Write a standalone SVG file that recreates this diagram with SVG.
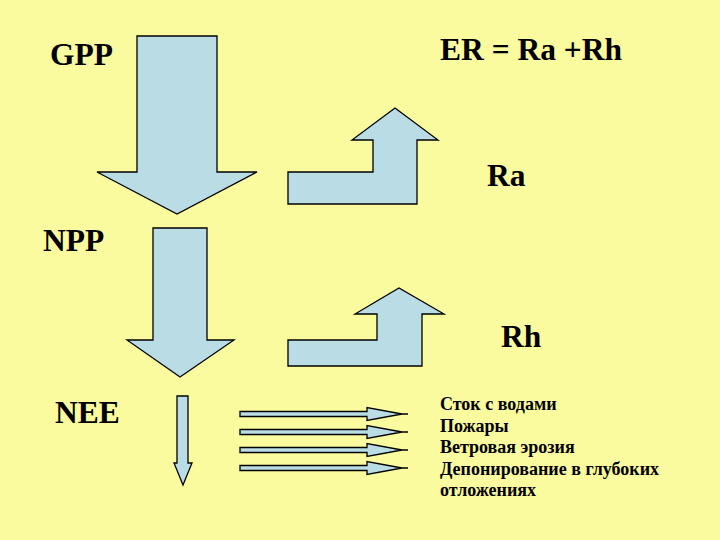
<svg xmlns="http://www.w3.org/2000/svg" width="720" height="540" viewBox="0 0 720 540">
<style>
.bg{fill:#FAFA9E}
.ar{fill:#BADCE4;stroke:#000;stroke-width:1.3;stroke-linejoin:miter}
</style>
<rect class="bg" x="0" y="0" width="720" height="540"/>
<g id="labels" font-family="Liberation Serif, DejaVu Serif, serif" font-size="31.5" font-weight="bold" fill="#000">
<text x="50" y="65">GPP</text>
<text x="440" y="60">ER = Ra +Rh</text>
<text x="487" y="186">Ra</text>
<text x="43" y="251">NPP</text>
<text x="501" y="347">Rh</text>
<text x="55" y="423">NEE</text>
</g>
<g id="connectors">
<polygon id="gpp-arrow" class="ar" points="137,36 217,36 217,172 257,172 177,214 97,172 137,172"/>
<polygon id="ra-arrow" class="ar" points="288,172 373,172 373,140 352,140 395,108 438,140 417,140 417,204 288,204"/>
<polygon id="npp-arrow" class="ar" points="153,228 207,228 207,340 234,340 180,377 127,340 153,340"/>
<polygon id="rh-arrow" class="ar" points="288,340 377,340 377,314 355,314 399,288 444,314 422,314 422,366 288,366"/>
<polygon id="nee-arrow" class="ar" points="177,396 188,396 188,463 192,463 183,485 174,463 177,463"/>
<g id="out-arrows">
<polygon class="ar" points="240,411.5 367,411.5 367,407.5 402,414 367,420.5 367,416.5 240,416.5"/>
<line x1="402" y1="414" x2="408" y2="414" stroke="#000" stroke-width="1.5"/>
<polygon class="ar" points="240,429.5 367,429.5 367,425.5 402,432 367,438.5 367,434.5 240,434.5"/>
<line x1="402" y1="432" x2="408" y2="432" stroke="#000" stroke-width="1.5"/>
<polygon class="ar" points="240,447.5 367,447.5 367,443.5 402,450 367,456.5 367,452.5 240,452.5"/>
<line x1="402" y1="450" x2="408" y2="450" stroke="#000" stroke-width="1.5"/>
<polygon class="ar" points="240,465.5 367,465.5 367,461.5 402,468 367,474.5 367,470.5 240,470.5"/>
<line x1="402" y1="468" x2="408" y2="468" stroke="#000" stroke-width="1.5"/>
</g>
</g>
<g id="sinks" font-family="Liberation Serif, DejaVu Serif, serif" font-size="18" font-weight="bold" fill="#000">
<text x="440" y="410">Сток с водами</text>
<text x="440" y="431.5">Пожары</text>
<text x="440" y="453">Ветровая эрозия</text>
<text x="440" y="474.5">Депонирование в глубоких</text>
<text x="440" y="496">отложениях</text>
</g>
</svg>
